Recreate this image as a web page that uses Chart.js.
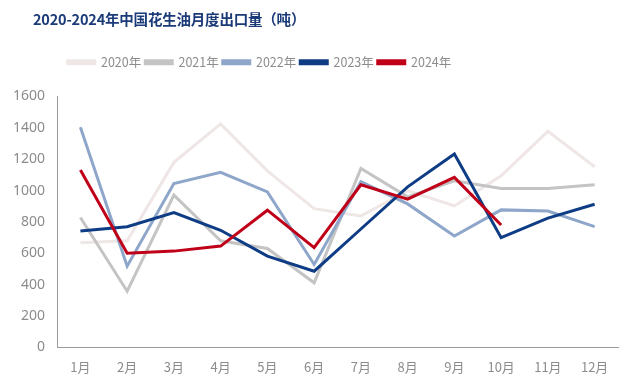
<!DOCTYPE html>
<html>
<head>
<meta charset="utf-8">
<script src="https://cdn.jsdelivr.net/npm/chart.js@4.4.0/dist/chart.umd.min.js"></script>
<style>
  html, body { margin: 0; padding: 0; background: #fff; }
  #wrap { position: relative; width: 637px; height: 390px; }
  #title { position: absolute; left: 33px; top: 8px; font: bold 14.5px "Noto Sans CJK SC", sans-serif; color: #1b3a78; letter-spacing: -0.2px; }
</style>
</head>
<body>
<div id="wrap">
  <div id="title">2020-2024年中国花生油月度出口量（吨）</div>
  <canvas id="c" width="637" height="390"></canvas>
</div>
<script>
// 月份
const months = ['1月', '2月', '3月', '4月', '5月', '6月', '7月', '8月', '9月', '10月', '11月', '12月'];

// 各年度出口量（吨）
const y2020 = [667, 680, 1180, 1425, 1126, 885, 838, 1000, 902, 1094, 1378, 1152];
const y2021 = [828, 358, 971, 680, 631, 412, 1141, 960, 1062, 1013, 1013, 1037];
const y2022 = [1404, 518, 1045, 1116, 992, 529, 1056, 915, 710, 877, 870, 770];
const y2023 = [742, 770, 860, 747, 582, 486, 755, 1024, 1233, 700, 824, 913];
const y2024 = [1131, 600, 614, 646, 875, 636, 1037, 945, 1084, 781];

const yTicks = [0, 200, 400, 600, 800, 1000, 1200, 1400, 1600];

const GREY = '#8c8c8c';

function line(label, data, color, order) {
  return { label, data, borderColor: color, backgroundColor: color, borderWidth: 3,
           pointRadius: 0, tension: 0, order };
}

// legend: extra room below, shifted left like the original
const legendTweak = {
  id: 'legendTweak',
  beforeInit(chart) {
    const fit = chart.legend.fit;
    chart.legend.fit = function () { fit.call(this); this.height += 18; };
  },
  afterLayout(chart) {
    chart.legend.left -= 50;
    chart.legend.right -= 50;
  }
};

new Chart(document.getElementById('c'), {
  type: 'line',
  data: {
    labels: months,
    datasets: [
      line('2020年', y2020, '#efe6e6', 5),
      line('2021年', y2021, '#c4c4c4', 4),
      line('2022年', y2022, '#8ea6c9', 3),
      line('2023年', y2023, '#0e3c85', 2),
      line('2024年', y2024, '#c00018', 1)
    ]
  },
  plugins: [legendTweak],
  options: {
    responsive: false,
    animation: false,
    layout: { padding: { top: 52, right: 19, left: 1, bottom: 3 } },
    plugins: {
      legend: {
        reverse: true,
        labels: { color: GREY, boxWidth: 27, boxHeight: 3, padding: 4,
                  font: { family: '"Noto Sans CJK SC", sans-serif', size: 12.5 } }
      },
      tooltip: { enabled: false }
    },
    scales: {
      x: {
        offset: true,
        grid: { display: false, drawTicks: false },
        border: { color: '#9a9a9a', width: 1 },
        ticks: { color: GREY, padding: 12, font: { family: '"Noto Sans CJK SC", sans-serif', size: 13 } }
      },
      y: {
        min: 0, max: 1600,
        afterBuildTicks: axis => { axis.ticks = yTicks.map(v => ({ value: v })); },
        grid: { display: false, drawTicks: false },
        border: { color: '#9a9a9a', width: 1 },
        ticks: { color: GREY, padding: 12, callback: v => String(v),
                 font: { family: '"Noto Sans", sans-serif', size: 14 } }
      }
    }
  }
});
</script>
</body>
</html>
